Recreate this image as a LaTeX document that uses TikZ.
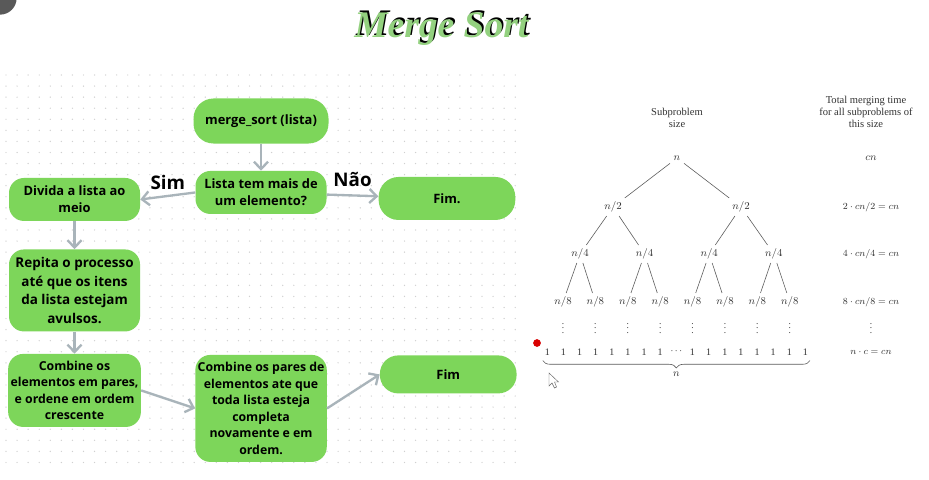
\documentclass[tikz,border=0pt]{standalone}
\usepackage{fontspec}
\setmainfont{Liberation Serif}
\newfontfamily\flowfont{Open Sans}
\usetikzlibrary{positioning,arrows.meta,decorations.pathreplacing}

\definecolor{boxgreen}{HTML}{7DD65A}
\definecolor{titlegreen}{HTML}{93D17F}
\definecolor{arrowgray}{HTML}{A9B4BA}
\definecolor{griddot}{HTML}{D0D0D0}
\definecolor{treeink}{HTML}{333333}

\begin{document}
\begin{tikzpicture}[
x=0.03cm,
y=-0.03cm,
block/.style={
fill=boxgreen,
rounded corners=0.45cm,
minimum width=3.93cm,
minimum height=1.29cm,
align=center,
inner sep=2pt,
font=\flowfont\bfseries\fontsize{11}{14.5}\selectfont
},
arrow/.style={
-{Straight Barb[length=2.2mm,width=4.2mm]},
line width=0.07cm,
draw=arrowgray
},
answer/.style={
font=\flowfont\bfseries\fontsize{16}{18}\selectfont
},
size/.style={
text=treeink,
inner sep=3pt,
font=\fontsize{9.5}{10.5}\selectfont
},
total/.style={
text=treeink,
inner sep=1.5pt,
font=\fontsize{8.5}{9.5}\selectfont
},
gap/.style={
text=treeink,
inner sep=0pt,
font=\fontsize{8}{9}\selectfont
},
branch/.style={
draw=treeink!80,
line width=0.5pt
}
]

\useasboundingbox (0,0) rectangle (929,480);
\fill[white] (0,0) rectangle (929,480);

% dotted background
\foreach \i in {0,...,46}
  \foreach \j in {0,...,35}
    \fill[griddot] (6+11.07*\i,75+11.07*\j) circle (0.6pt);

% title
\node[font=\bfseries\itshape\fontsize{32}{34}\selectfont, text=black] (titleshadow) at (443,27) {Merge Sort};
\node[font=\bfseries\itshape\fontsize{32}{34}\selectfont, text=titlegreen] (title) at ([xshift=-0.05cm,yshift=-0.06cm]titleshadow.center) {Merge Sort};

% flowchart
\node[block, minimum width=4.05cm, minimum height=1.35cm, rounded corners=0.6cm] (start) at (261,121)
{merge\_sort (lista)};

\node[block, below=0.81cm of start] (cond)
{Lista tem mais de\\um elemento?};

\node[block, left=1.65cm of cond, yshift=-0.21cm] (divide)
{Divida a lista ao\\meio};

\node[block, right=1.55cm of cond, yshift=-0.18cm, minimum width=4.1cm, rounded corners=0.6cm] (fim1)
{Fim.};

\node[block, below=0.84cm of divide, minimum height=2.46cm, font=\flowfont\bfseries\fontsize{11.5}{16}\selectfont] (repeat)
{Repita o processo\\até que os itens\\da lista estejam\\avulsos.};

\node[block, below=0.66cm of repeat, minimum height=2.19cm, font=\flowfont\bfseries\fontsize{10.5}{14.2}\selectfont] (merge1)
{Combine os\\elementos em pares,\\e ordene em ordem\\crescente};

\node[block, right=1.62cm of merge1, yshift=-0.54cm, minimum height=3.21cm, font=\flowfont\bfseries\fontsize{10.5}{14.2}\selectfont] (merge2)
{Combine os pares de\\elementos ate que\\toda lista esteja\\completa\\novamente e em\\ordem.};

\node[block, right=1.58cm of merge2, yshift=1.02cm, minimum width=4.1cm, minimum height=1.14cm, rounded corners=0.55cm] (fim2)
{Fim};

% arrows
\draw[arrow] (start) -- (cond);
\draw[arrow] (cond.west) -- (divide.east) node[answer, midway, above=0.05cm] (sim) {Sim};
\draw[arrow] (cond) -- (fim1) node[answer, midway, above=0.12cm] (nao) {Não};
\draw[arrow] (divide) -- (repeat);
\draw[arrow] (repeat) -- (merge1);
\draw[arrow] (merge1.east) -- (merge2.west);
\draw[arrow] (merge2.east) -- (fim2.west);

% recursion tree
\node[size, align=center, font=\fontsize{9}{10.5}\selectfont] (colsize) at (677,118) {Subproblem\\size};
\node[size, align=center, font=\fontsize{9}{10}\selectfont] (coltime) at (866,112) {Total merging time\\for all subproblems of\\this size};

\node[size] (root) at (677,158) {$n$};
\foreach \i in {1,2}
  \node[size] (h\i) at (613+128*\i-128,207) {$n/2$};
\foreach \i in {1,...,4}
  \node[size] (q\i) at (580+64.6*\i-64.6,254) {$n/4$};
\foreach \i in {1,...,8}
  \node[size] (e\i) at (563+32.4*\i-32.4,302) {$n/8$};
\foreach \i in {1,...,8}
  \node[gap] (d\i) at (563+32.4*\i-32.4,325) {$\vdots$};

\foreach \i in {1,2}
  \draw[branch] (root) -- (h\i);
\foreach \i/\p in {1/1,2/1,3/2,4/2}
  \draw[branch] (h\p) -- (q\i);
\foreach \i/\p in {1/1,2/1,3/2,4/2,5/3,6/3,7/4,8/4}
  \draw[branch] (q\p) -- (e\i);

% leaves
\foreach \i in {0,...,7,9,10,...,16}
  \node[total] (one\i) at (547.3+16.13*\i,352) {1};
\node[total] (leafdots) at (676.3,351) {$\cdots$};

\draw[branch, decorate, decoration={brace, mirror, amplitude=0.22cm}]
  ([yshift=-0.1cm]one0.south west) -- ([yshift=-0.1cm]one16.south east)
  node[size, midway, below=0.22cm] (leafcount) {$n$};

% merging time column
\node[size] (t0) at (871,158) {$cn$};
\node[total] (t1) at (871,207) {$2\cdot cn/2 = cn$};
\node[total] (t2) at (871,254) {$4\cdot cn/4 = cn$};
\node[total] (t3) at (871,302) {$8\cdot cn/8 = cn$};
\node[gap] (t4) at (871,325) {$\vdots$};
\node[total] (t5) at (871,352) {$n\cdot c = cn$};

% screen marks
\fill[red!85!black] (537,343) circle (3.3pt);
\fill[black!65] (0,-2) circle (0.5cm);
\draw[black!60, fill=white, line width=0.4pt]
  (549,373) -- (549,386) -- (552,383) -- (554.5,388) -- (556.5,387) -- (554.5,382) -- (558.5,382) -- cycle;

\end{tikzpicture}
\end{document}
